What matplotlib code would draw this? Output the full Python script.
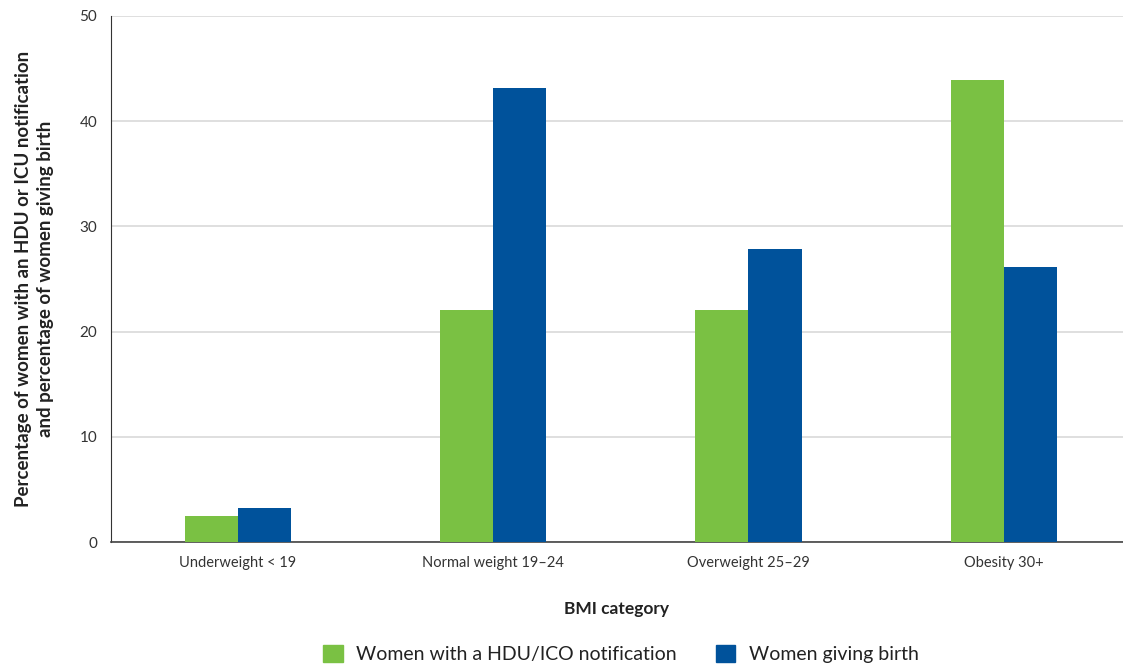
import numpy as np
import matplotlib.pyplot as plt
from matplotlib.patches import Patch

categories = ["Underweight < 19", "Normal weight 19\u201324", "Overweight 25\u201329", "Obesity 30+"]
hdu_icu = [2.5, 22.1, 22.1, 43.9]
giving_birth = [3.2, 43.2, 27.9, 26.1]
series_names = ["Women with a HDU/ICO notification", "Women giving birth"]

plt.rcParams['font.family'] = ['Lato', 'DejaVu Sans']

green = '#7AC143'
blue = '#00529B'

fig = plt.figure(figsize=(11.23, 6.66), dpi=100)
ax = fig.add_axes([0.0988, 0.186, 0.9012, 0.79])

x = np.arange(len(categories))
w = 0.208
ax.bar(x - w / 2, hdu_icu, width=w, color=green, zorder=3)
ax.bar(x + w / 2, giving_birth, width=w, color=blue, zorder=3)

# axes run to the right edge of the figure, so the groups sit off-centre
ax.set_xlim(-0.497, 3.467)
ax.set_ylim(0, 50)
ax.set_yticks([0, 10, 20, 30, 40, 50])
ax.set_xticks(x)
ax.set_xticklabels(categories, fontsize=10.5, color='#333333')
ax.tick_params(axis='y', labelsize=11, colors='#333333', length=0, pad=10)
ax.tick_params(axis='x', length=0, pad=10)

ax.grid(axis='y', color='#d9d9d9', linewidth=1.2, zorder=0)
for s in ['top', 'right']:
    ax.spines[s].set_visible(False)
ax.spines['left'].set_color('#333333')
ax.spines['bottom'].set_color('#444444')
ax.spines['bottom'].set_linewidth(1.2)

ax.set_ylabel("Percentage of women with an HDU or ICU notification\nand percentage of women giving birth",
              fontsize=13.5, fontweight='bold', color='#222222', labelpad=18, linespacing=1.35)
ax.set_xlabel("BMI category", fontsize=12.5, fontweight='bold', color='#222222', labelpad=22)

handles = [Patch(color=green), Patch(color=blue)]
fig.legend(handles, series_names, loc='lower center', bbox_to_anchor=(0.553, -0.022), ncol=2,
           frameon=False, fontsize=14, handlelength=1.0, handleheight=1.0,
           columnspacing=2.0, handletextpad=0.7, labelcolor='#222222')

fig.savefig('out.png', dpi=100)
plt.close('all')
